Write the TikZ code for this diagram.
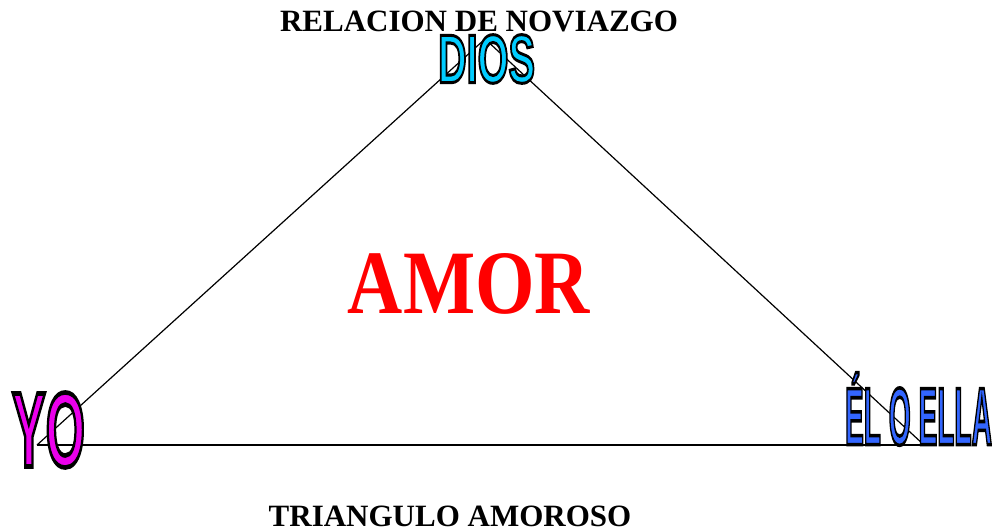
\documentclass[tikz,border=0pt]{standalone}
\usepackage{fontspec}
\usepackage{graphicx}
\setmainfont{Liberation Serif}
\newfontfamily\artfont{Liberation Sans}[BoldFont={* Bold}]
\definecolor{diosc}{RGB}{0,204,255}
\definecolor{yoc}{RGB}{235,0,235}
\definecolor{ellac}{RGB}{51,102,255}
\definecolor{amorc}{RGB}{255,0,0}
\newcommand\wordart[4]{\resizebox{#2}{#3}{\fontsize{50}{50}\selectfont\artfont\bfseries\color{#1}\special{pdf:literal direct 0 G 2.2 w 2 Tr}#4\special{pdf:literal direct 0 Tr 0.4 w}}}
\begin{document}
\begin{tikzpicture}[x=0.75pt,y=-0.75pt,
  title/.style={anchor=base,inner sep=0pt,font=\fontsize{23.25}{24}\selectfont\bfseries},
  art/.style={inner sep=0pt},
  edge/.style={draw=black,line width=0.9pt}]
\useasboundingbox (0,0) rectangle (992,531);
\coordinate (top) at (485,39);
\coordinate (bl) at (37,445);
\coordinate (br) at (924,445);
\draw[edge] (top) -- (bl);
\draw[edge] (bl) -- (br);
\draw[edge] (top) -- (br);
\node[title] (t1) at (479,32) {RELACION DE NOVIAZGO};
\node[title] (t2) at (450,526) {TRIANGULO AMOROSO};
\node[art] (dios) at (486.5,59) {\wordart{diosc}{72.75pt}{36pt}{DIOS}};
\node[art] (yo) at (48.5,430) {\wordart{yoc}{54.75pt}{55.5pt}{YO}};
\node[art] (ella) at (918.5,409) {\wordart{ellac}{110.25pt}{54pt}{ÉL O ELLA}};
\node[art] (amor) at (469,283.5) {\resizebox{181.5pt}{45pt}{\fontsize{60}{60}\selectfont\bfseries\color{amorc}AMOR}};
\end{tikzpicture}
\end{document}
